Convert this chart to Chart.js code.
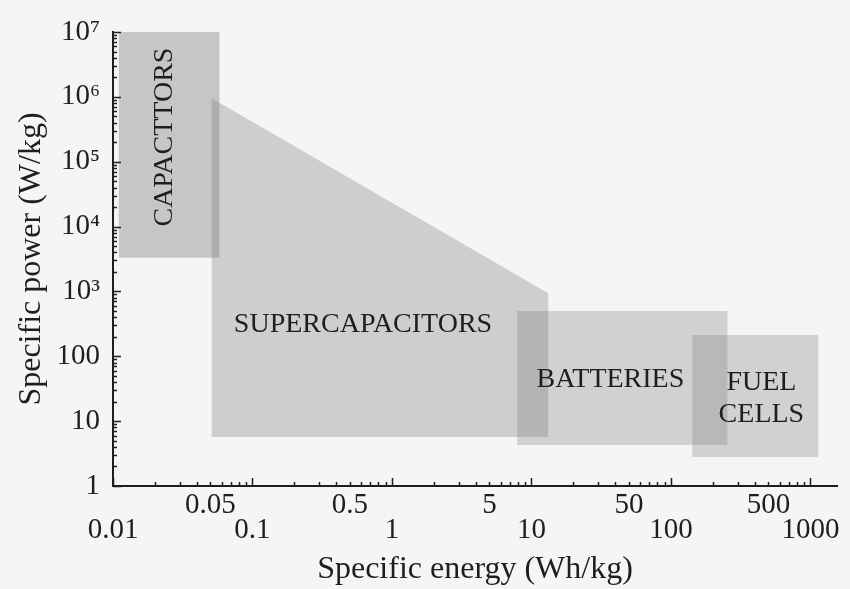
<!DOCTYPE html>
<html>
<head>
<meta charset="utf-8">
<script src="https://cdn.jsdelivr.net/npm/chart.js@4.4.0/dist/chart.umd.min.js"></script>
<style>
  html, body { margin: 0; padding: 0; background: #f5f5f4; }
  #wrap { width: 850px; height: 589px; position: relative; }
</style>
</head>
<body>
<div id="wrap"><canvas id="c"></canvas></div>
<script>
// ---- Data (Specific energy Wh/kg, Specific power W/kg) ----
const capacitorEnergy = [0.011, 0.058, 0.058, 0.011];
const capacitorPower  = [1e7, 1e7, 3300, 3300];

const supercapEnergy  = [0.051, 13.2, 13.2, 0.051];
const supercapPower   = [9.5e5, 940, 5.7, 5.7];

const batteryEnergy   = [7.9, 254, 254, 7.9];
const batteryPower    = [500, 500, 4.3, 4.3];

const fuelCellEnergy  = [142, 1140, 1140, 142];
const fuelCellPower   = [212, 212, 2.8, 2.8];

const regionNames   = ['CAPACTTORS', 'SUPERCAPACITORS', 'BATTERIES', 'FUEL\nCELLS'];
const regionEnergy  = [0.0236, 0.62, 36.8, 445];
const regionPower   = [2.4e5, 303, 43, 21.9];

const xLowerRow = [0.01, 0.1, 1, 10, 100, 1000];
const xLowerText = ['0.01', '0.1', '1', '10', '100', '1000'];
const xUpperRow = [0.05, 0.5, 5, 50, 500];
const xUpperText = ['0.05', '0.5', '5', '50', '500'];

const yTickValues = [1, 10, 100, 1e3, 1e4, 1e5, 1e6, 1e7];
const yTickText   = ['1', '10', '100', '10³', '10⁴', '10⁵', '10⁶', '10⁷'];

const xMin = 0.01, xMax = 1550, yMin = 1, yMax = 1e7;

// ---- helpers ----
function logTicks(min, max) {
  const out = [];
  for (let e = Math.floor(Math.log10(min)); e <= Math.ceil(Math.log10(max)); e++) {
    for (let k = 1; k < 10; k++) {
      const v = parseFloat((k * Math.pow(10, e)).toPrecision(6));
      if (v >= min * 0.9999 && v <= max * 1.0001) out.push(v);
    }
  }
  return out;
}
function same(a, b) { return Math.abs(Math.log10(a) - Math.log10(b)) < 1e-6; }
function findIdx(arr, v) { return arr.findIndex(a => same(a, v)); }
function poly(ex, py) {
  const pts = ex.map((e, i) => ({ x: e, y: py[i] }));
  pts.push({ x: ex[0], y: py[0] });
  return pts;
}

const serif = "'Liberation Serif', 'Times New Roman', serif";
const ink = '#1e1e1e';

const regionLabelPlugin = {
  id: 'regionLabels',
  afterDatasetsDraw(chart) {
    const { ctx, scales: { x, y } } = chart;
    ctx.save();
    ctx.fillStyle = ink;
    ctx.font = '28px ' + serif;
    ctx.textAlign = 'center';
    ctx.textBaseline = 'middle';
    regionNames.forEach((name, i) => {
      const px = x.getPixelForValue(regionEnergy[i]);
      const py = y.getPixelForValue(regionPower[i]);
      const lines = name.split('\n');
      const lh = 32;
      ctx.save();
      ctx.translate(px, py);
      if (i === 0) ctx.rotate(-Math.PI / 2);
      lines.forEach((ln, j) => {
        ctx.fillText(ln, 0, (j - (lines.length - 1) / 2) * lh);
      });
      ctx.restore();
    });
    ctx.restore();
  }
};

const innerTickPlugin = {
  id: 'innerTicks',
  afterDraw(chart) {
    const { ctx, chartArea, scales: { x, y } } = chart;
    ctx.save();
    ctx.strokeStyle = ink;
    ctx.lineWidth = 1.5;
    ctx.beginPath();
    x.ticks.forEach(t => {
      const px = Math.round(x.getPixelForValue(t.value)) + 0.5;
      const major = Number.isInteger(Math.round(Math.log10(t.value) * 1e6) / 1e6);
      const len = major ? 8 : 4;
      ctx.moveTo(px, chartArea.bottom);
      ctx.lineTo(px, chartArea.bottom - len);
    });
    y.ticks.forEach(t => {
      const py = Math.round(y.getPixelForValue(t.value)) + 0.5;
      const major = Number.isInteger(Math.round(Math.log10(t.value) * 1e6) / 1e6);
      const len = major ? 8 : 4;
      ctx.moveTo(chartArea.left, py);
      ctx.lineTo(chartArea.left + len, py);
    });
    ctx.stroke();
    ctx.restore();
  }
};

const dsBase = { showLine: true, fill: 'shape', borderWidth: 0, pointRadius: 0, pointHoverRadius: 0, tension: 0 };

new Chart(document.getElementById('c'), {
  type: 'scatter',
  data: {
    datasets: [
      Object.assign({ label: 'Capacitors', data: poly(capacitorEnergy, capacitorPower), backgroundColor: 'rgba(120,120,120,0.38)' }, dsBase),
      Object.assign({ label: 'Supercapacitors', data: poly(supercapEnergy, supercapPower), backgroundColor: 'rgba(128,128,128,0.33)' }, dsBase),
      Object.assign({ label: 'Batteries', data: poly(batteryEnergy, batteryPower), backgroundColor: 'rgba(128,128,128,0.31)' }, dsBase),
      Object.assign({ label: 'Fuel cells', data: poly(fuelCellEnergy, fuelCellPower), backgroundColor: 'rgba(128,128,128,0.31)' }, dsBase)
    ]
  },
  options: {
    responsive: true,
    maintainAspectRatio: false,
    animation: false,
    events: [],
    layout: { padding: { top: 32, right: 13, bottom: 0, left: 0 } },
    plugins: { legend: { display: false }, tooltip: { enabled: false } },
    scales: {
      x: {
        type: 'logarithmic', position: 'bottom', min: xMin, max: xMax,
        afterBuildTicks: s => { s.ticks = logTicks(xMin, xMax).map(v => ({ value: v })); },
        afterFit: s => { s.height = 103; },
        ticks: {
          autoSkip: false, maxRotation: 0, minRotation: 0, padding: 7, color: ink,
          font: { family: serif, size: 29, lineHeight: 0.86 },
          callback: (v) => {
            let i = findIdx(xUpperRow, v);
            if (i >= 0) return [xUpperText[i]];
            i = findIdx(xLowerRow, v);
            if (i >= 0) return ['', xLowerText[i]];
            return '';
          }
        },
        grid: { display: true, drawOnChartArea: false, drawTicks: false },
        border: { display: true, color: ink, width: 2 },
        title: { display: true, text: 'Specific energy (Wh/kg)', color: ink, font: { family: serif, size: 32, lineHeight: 1.2 }, padding: { top: 0, bottom: 0 } }
      },
      y: {
        type: 'logarithmic', position: 'left', min: yMin, max: yMax,
        afterBuildTicks: s => { s.ticks = logTicks(yMin, yMax).map(v => ({ value: v })); },
        afterFit: s => { s.width = 113; },
        ticks: {
          autoSkip: false, padding: 13, color: ink,
          font: { family: serif, size: 29 },
          callback: (v) => {
            const i = findIdx(yTickValues, v);
            return i >= 0 ? yTickText[i] : '';
          }
        },
        grid: { display: true, drawOnChartArea: false, drawTicks: false },
        border: { display: true, color: ink, width: 2 },
        title: { display: true, text: 'Specific power (W/kg)', color: ink, font: { family: serif, size: 32, lineHeight: 1.2 }, padding: { top: 12, bottom: 0 } }
      }
    }
  },
  plugins: [regionLabelPlugin, innerTickPlugin]
});
</script>
</body>
</html>
